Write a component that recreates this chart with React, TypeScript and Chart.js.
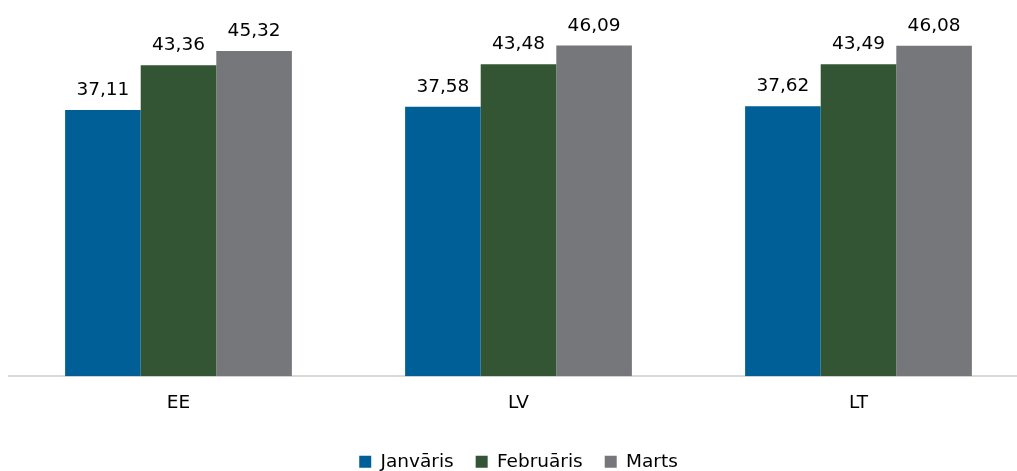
import React, { useEffect, useRef } from "react";
import { Chart, registerables } from "chart.js";

Chart.register(...registerables);

const categories = ["EE", "LV", "LT"];
const seriesNames = ["Janvāris", "Februāris", "Marts"];
const janValues = [37.11, 37.58, 37.62];
const febValues = [43.36, 43.48, 43.49];
const marValues = [45.32, 46.09, 46.08];
const seriesColors = ["#005F96", "#335534", "#76777B"];

const FONT = "'DejaVu Sans', Verdana, sans-serif";
const FS = 18.5;

const valueLabels = {
  id: "valueLabels",
  afterDatasetsDraw(chart: any) {
    const ctx = chart.ctx;
    ctx.save();
    ctx.font = `${FS}px ${FONT}`;
    ctx.fillStyle = "#000";
    ctx.textAlign = "center";
    ctx.textBaseline = "alphabetic";
    chart.data.datasets.forEach((ds: any, i: number) => {
      const meta = chart.getDatasetMeta(i);
      meta.data.forEach((bar: any, j: number) => {
        const v = ds.data[j] as number;
        ctx.fillText(v.toFixed(2).replace(".", ","), bar.x, bar.y - 15);
      });
    });
    ctx.restore();
  },
};

export default function App() {
  const ref = useRef<HTMLCanvasElement>(null);
  useEffect(() => {
    if (!ref.current) return;
    const chart = new Chart(ref.current, {
      type: "bar",
      data: {
        labels: categories,
        datasets: [janValues, febValues, marValues].map((d, i) => ({
          label: seriesNames[i],
          data: d,
          backgroundColor: seriesColors[i],
          borderWidth: 0,
          categoryPercentage: 0.667,
          barPercentage: 1,
        })),
      },
      options: {
        responsive: false,
        animation: false,
        devicePixelRatio: 1,
        layout: { padding: { left: 8.5, right: 16.5, top: 17.5, bottom: -10 } },
        plugins: {
          legend: {
            position: "bottom",
            labels: {
              boxWidth: 12,
              boxHeight: 12,
              padding: 22,
              color: "#000",
              font: { family: FONT, size: FS },
            },
          },
          tooltip: { enabled: false },
        },
        scales: {
          x: {
            grid: { display: true, color: "transparent", drawTicks: false, drawOnChartArea: false },
            border: { display: true, color: "#d9d9d9", width: 2 },
            ticks: { color: "#000", padding: 16, font: { family: FONT, size: FS } },
          },
          y: { display: false, min: 0, max: 50 },
        },
      },
      plugins: [valueLabels],
    });
    return () => chart.destroy();
  }, []);
  return (
    <div style={{ position: "absolute", left: 0, top: 0, width: 1017, height: 471, overflow: "hidden", background: "#fff" }}>
      <canvas ref={ref} width={1045} height={471} />
    </div>
  );
}
